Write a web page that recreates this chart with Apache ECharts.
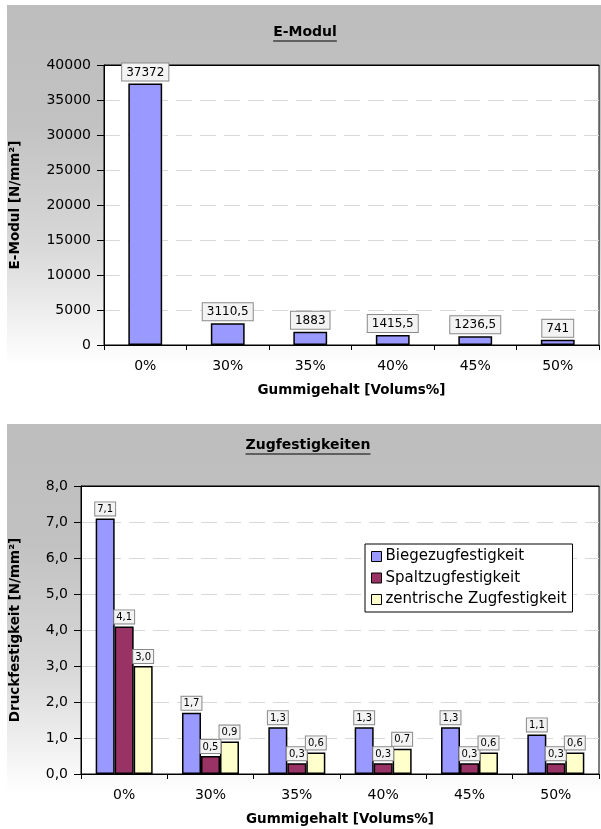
<!DOCTYPE html>
<html>
<head>
<meta charset="utf-8">
<script src="https://cdn.jsdelivr.net/npm/echarts@6/dist/echarts.min.js"></script>
<style>
  html, body { margin: 0; padding: 0; background: #ffffff; }
  #chart { width: 601px; height: 829px; }
</style>
</head>
<body>
<div id="chart"></div>
<script>
// Rubber content categories (volume %)
const categories = ['0%', '30%', '35%', '40%', '45%', '50%'];

// Modulus of elasticity [N/mm²]
const eModul = [37372, 3110.5, 1883, 1415.5, 1236.5, 741];

// Tensile strengths [N/mm²]
const biegezug = [7.1, 1.7, 1.3, 1.3, 1.3, 1.1];
const spaltzug = [4.1, 0.5, 0.3, 0.3, 0.3, 0.3];
const zentrisch = [3.0, 0.9, 0.6, 0.7, 0.6, 0.6];

const seriesNames = ['Biegezugfestigkeit', 'Spaltzugfestigkeit', 'zentrische Zugfestigkeit'];
const seriesColors = ['#9999ff', '#993366', '#ffffcc'];

const FONT = 'DejaVu Sans';
const commaDecimal = v => String(v).replace('.', ',');
const oneDecimal = v => v.toFixed(1).replace('.', ',');

function textWidth(text, font) {
  const ctx = document.createElement('canvas').getContext('2d');
  ctx.font = font;
  return ctx.measureText(text).width;
}

const titles = [
  { text: 'E-Modul', cx: 305, top: 25 },
  { text: 'Zugfestigkeiten', cx: 308, top: 438 }
];
const titleFont = 'bold 14px "' + FONT + '"';

const panelGradient = () => new echarts.graphic.LinearGradient(0, 0, 0, 1, [
  { offset: 0, color: '#bdbdbd' },
  { offset: 0.3, color: '#c2c2c2' },
  { offset: 0.6, color: '#d8d8d8' },
  { offset: 0.9, color: '#ffffff' },
  { offset: 1, color: '#ffffff' }
]);

const chart = echarts.init(document.getElementById('chart'), null, { renderer: 'canvas' });

const axisText = { color: '#000', fontFamily: FONT, fontSize: 14 };
const nameText = { color: '#000', fontFamily: FONT, fontSize: 13.5, fontWeight: 'bold' };
const gridLine = { show: true, lineStyle: { color: '#d9d9d9', width: 1, type: [16, 8] } };

// Category axes at the bottom of each plot, plus a bare top axis that closes the frame
const bottomAxis = i => ({
  type: 'category',
  gridIndex: i,
  data: categories,
  boundaryGap: true,
  name: 'Gummigehalt [Volums%]',
  nameLocation: 'middle',
  nameGap: 38,
  nameTextStyle: nameText,
  axisLine: { lineStyle: { color: '#000', width: 1 } },
  axisTick: { show: true, length: 5, lineStyle: { color: '#000' } },
  axisLabel: Object.assign({ margin: 14 }, axisText)
});
const topFrame = i => ({
  type: 'category',
  gridIndex: i,
  position: 'top',
  data: categories,
  axisLine: { show: true, lineStyle: { color: '#000', width: 1 } },
  axisTick: { show: false },
  axisLabel: { show: false },
  splitLine: { show: false }
});

const option = {
  animation: false,
  backgroundColor: '#ffffff',
  graphic: [
    { type: 'rect', z: -100, silent: true, shape: { x: 7, y: 5, width: 600, height: 400 }, style: { fill: panelGradient() } },
    { type: 'rect', z: -100, silent: true, shape: { x: 7, y: 424, width: 600, height: 410 }, style: { fill: panelGradient() } }
  ].concat(titles.map(t => {
    const w = textWidth(t.text, titleFont);
    return {
      type: 'line', z: 100, silent: true,
      shape: { x1: t.cx - w / 2, y1: t.top + 16, x2: t.cx + w / 2, y2: t.top + 16 },
      style: { stroke: '#000', lineWidth: 1.2 }
    };
  })),
  title: titles.map(t => ({
    text: t.text,
    left: t.cx,
    top: t.top,
    textAlign: 'center',
    padding: 0,
    textStyle: { color: '#000', fontFamily: FONT, fontSize: 14, fontWeight: 'bold' }
  })),
  legend: {
    data: seriesNames,
    orient: 'vertical',
    left: 365,
    top: 544,
    padding: [5, 6, 5, 6],
    itemGap: 6.5,
    itemWidth: 10,
    itemHeight: 10,
    icon: 'rect',
    backgroundColor: '#ffffff',
    borderColor: '#000',
    borderWidth: 1,
    itemStyle: { borderColor: '#000', borderWidth: 1 },
    textStyle: { color: '#000', fontFamily: FONT, fontSize: 15, padding: [0, 0, 0, -1] }
  },
  grid: [
    { left: 103, top: 65, right: 2, height: 280, show: true, backgroundColor: '#ffffff', borderColor: '#000', borderWidth: 1 },
    { left: 81, top: 486, right: 2, height: 288, show: true, backgroundColor: '#ffffff', borderColor: '#000', borderWidth: 1 }
  ],
  xAxis: [bottomAxis(0), bottomAxis(1), topFrame(0), topFrame(1)],
  yAxis: [
    {
      type: 'value', gridIndex: 0, min: 0, max: 40000, interval: 5000,
      name: 'E-Modul [N/mm²]', nameLocation: 'middle', nameGap: 82, nameTextStyle: nameText,
      axisLine: { show: true, lineStyle: { color: '#000' } },
      axisTick: { show: true, length: 7, lineStyle: { color: '#000' } },
      axisLabel: Object.assign({ margin: 13, formatter: v => String(v) }, axisText),
      splitLine: gridLine
    },
    {
      type: 'value', gridIndex: 1, min: 0, max: 8, interval: 1,
      name: 'Druckfestigkeit [N/mm²]', nameLocation: 'middle', nameGap: 59, nameTextStyle: nameText,
      axisLine: { show: true, lineStyle: { color: '#000' } },
      axisTick: { show: true, length: 7, lineStyle: { color: '#000' } },
      axisLabel: Object.assign({ margin: 13, formatter: oneDecimal }, axisText),
      splitLine: gridLine
    }
  ],
  series: [
    {
      name: 'E-Modul',
      type: 'bar',
      xAxisIndex: 0, yAxisIndex: 0,
      data: eModul,
      barWidth: '41%',
      itemStyle: { color: '#9999ff', borderColor: '#000', borderWidth: 1.5 },
      label: {
        show: true, position: 'top', distance: 3,
        formatter: p => commaDecimal(p.value),
        color: '#000', fontFamily: FONT, fontSize: 12,
        backgroundColor: '#f3f3f3', borderColor: '#8a8a8a', borderWidth: 1, padding: [3, 4, 2, 4]
      }
    }
  ].concat([biegezug, spaltzug, zentrisch].map((vals, i) => ({
    name: seriesNames[i],
    type: 'bar',
    xAxisIndex: 1, yAxisIndex: 1,
    data: vals,
    barGap: '0%',
    barCategoryGap: '34%',
    itemStyle: { color: seriesColors[i], borderColor: '#000', borderWidth: 1.5 },
    label: {
      show: true, position: 'top', distance: 3,
      formatter: p => oneDecimal(p.value),
      color: '#000', fontFamily: FONT, fontSize: 10,
      backgroundColor: '#f3f3f3', borderColor: '#8a8a8a', borderWidth: 1, padding: [2, 2, 1, 2]
    }
  })))
};

chart.setOption(option);
</script>
</body>
</html>
